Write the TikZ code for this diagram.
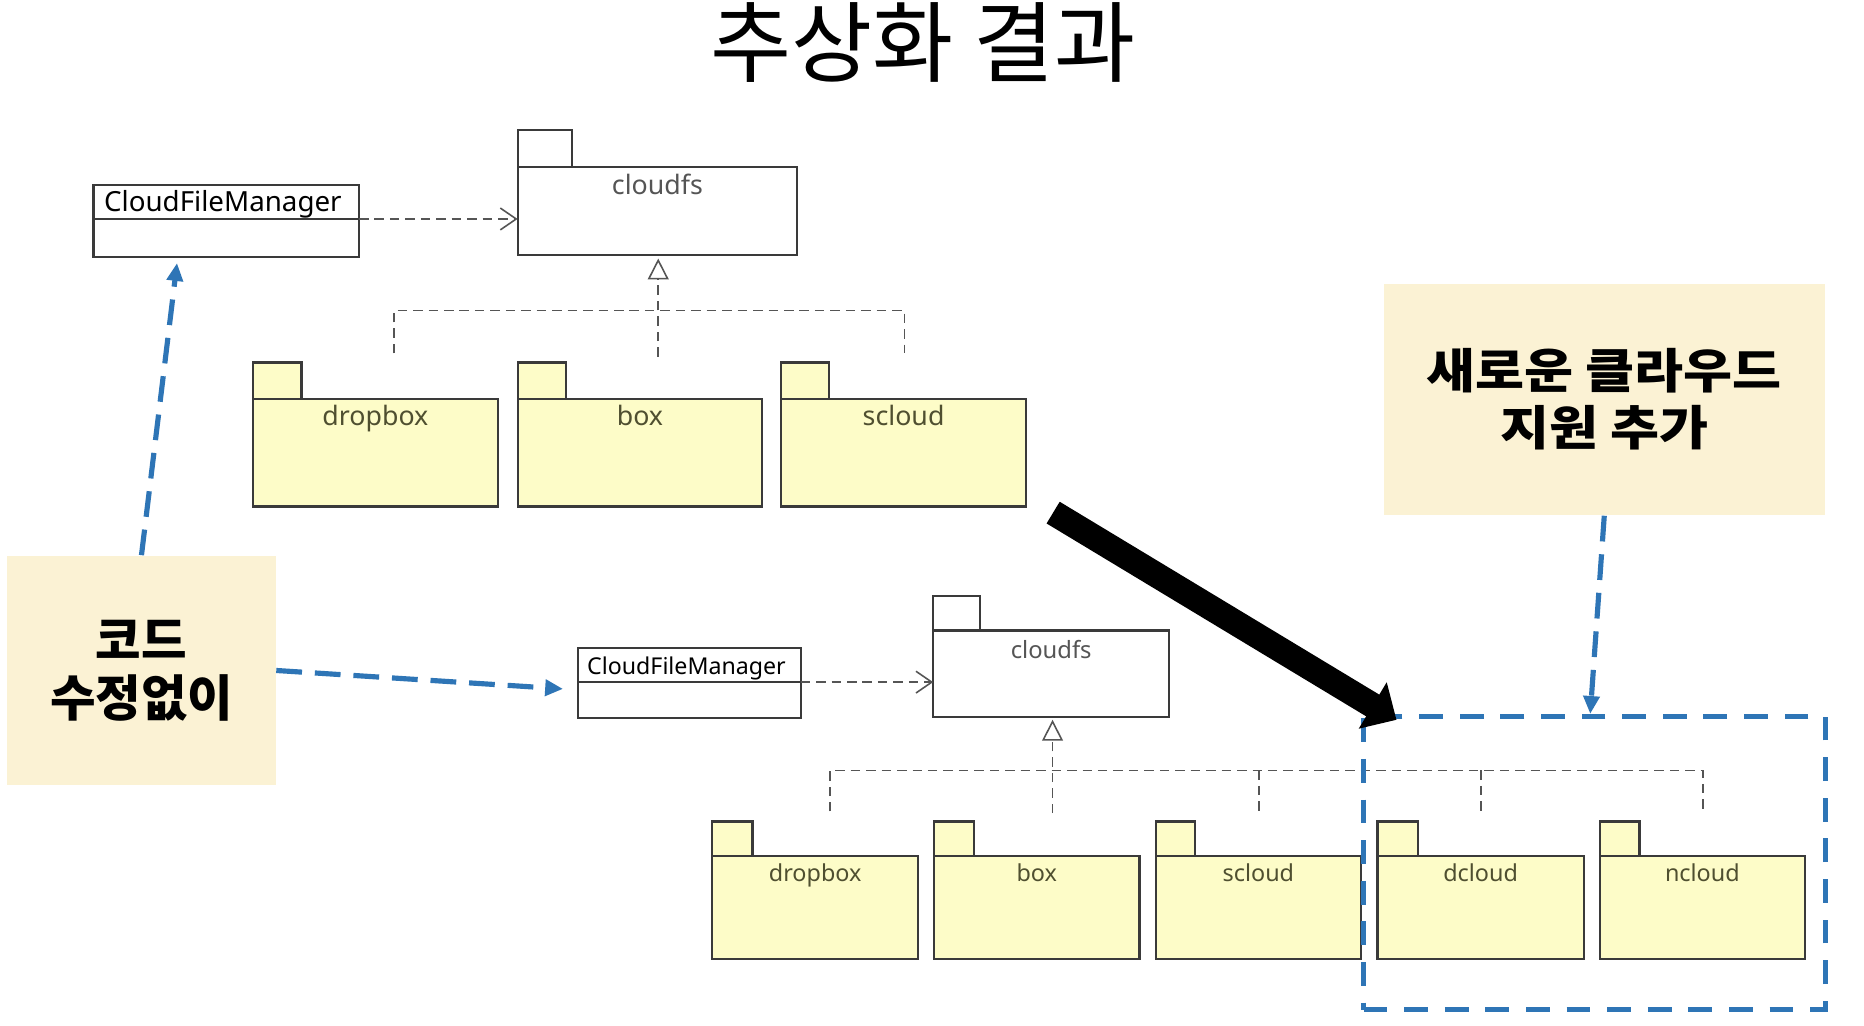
\documentclass[tikz,border=0pt]{standalone}
\usepackage{fontspec}
\setmainfont{Noto Sans}
\newfontfamily\kr{Noto Sans CJK KR}
\newfontfamily\krwide{Noto Sans CJK KR}[FakeStretch=1.12]
\usetikzlibrary{arrows.meta,fit,calc}
\definecolor{pkgfill}{HTML}{FDFCC8}
\definecolor{notefill}{HTML}{FBF2D4}
\definecolor{blu}{HTML}{2E75B6}
\definecolor{edge}{HTML}{3A3A3A}
\definecolor{pkgtext}{HTML}{4F4F30}
\definecolor{gtext}{HTML}{555555}
\definecolor{gline}{HTML}{555555}
\tikzset{
  frame/.style={draw=edge, line width=1.1pt, inner sep=0pt, outer sep=0pt},
  pkgY/.style={frame, fill=pkgfill},
  pkgW/.style={frame, fill=white},
  pkgYs/.style={pkgY},
  pkgWs/.style={pkgW},
  pkgY lbl/.style={font=\fontsize{13.5}{16}\selectfont, text=pkgtext, yshift=-13.2pt},
  pkgW lbl/.style={font=\fontsize{13.5}{16}\selectfont, text=gtext, yshift=-14.3pt},
  pkgYs lbl/.style={font=\fontsize{11.8}{14}\selectfont, text=pkgtext, yshift=-12.9pt},
  pkgWs lbl/.style={font=\fontsize{12}{14}\selectfont, text=gtext, yshift=-14pt},
  pkglbl/.style={inner sep=0pt, anchor=base},
  classtxt/.style={inner sep=0pt, anchor=base, text=black},
  divline/.style={draw=edge, line width=1.1pt},
  gdash/.style={draw=gline, line width=0.8pt, dash pattern=on 4.8pt off 3pt},
  gdep/.style={gdash, -{Straight Barb[length=8pt,width=11pt]}},
  greal/.style={gdash, -{Triangle[open,length=10.5pt,width=10.5pt,fill=white]}},
  note/.style={fill=notefill, inner sep=0pt, align=center, text=black},
  bluarrow/.style={draw=blu, line width=2.6pt, dash pattern=on 13pt off 6.5pt, -{Triangle[length=9pt,width=8pt]}},
  newbox/.style={draw=blu, line width=2.6pt, dash pattern=on 12pt off 8.5pt, inner sep=0pt},
  bigarrow/.style={draw=black, line width=12.8pt, -{Triangle[length=14pt,width=26.5pt]}}
}
\newcommand{\Pkg}[9]{%
  \node[#9, fit={(#2,#5)(#3,#6)}] (#1-tab) {};
  \node[#9, fit={(#2,#6)(#4,#7)}] (#1) {};
  \node[pkglbl, #9 lbl] (#1-lbl) at (#1.north) {#8};
}
\begin{document}
\begin{tikzpicture}[x=0.6pt, y=-0.6pt]
\useasboundingbox (0,0) rectangle (1568,863);
\fill[white] (0,0) rectangle (1568,863);

% title
\node[font={\kr\fontsize{44.5}{52}\selectfont}, inner sep=0pt] (title) at (776.5,36) {추상화 결과};

% ---------- top diagram ----------
\Pkg{tcfs}{435.4}{481}{670.6}{109.3}{140.2}{214.5}{cloudfs}{pkgW}
\Pkg{tdrop}{212.8}{253.6}{418.7}{305}{335.8}{426}{dropbox}{pkgY}
\Pkg{tbox}{435.4}{475.8}{641.3}{305}{335.8}{426}{box}{pkgY}
\Pkg{tscl}{657.2}{697.1}{863}{305}{335.8}{426}{scloud}{pkgY}

\node[frame, fill=white, fit={(78.7,155.6)(302,215.9)}] (cfmA) {};
\coordinate (cfmA-l) at (78.7,184.2);
\coordinate (cfmA-r) at (302,184.2);
\draw[divline] (cfmA-l) -- (cfmA-r);
\node[classtxt, font=\fontsize{14}{16}\selectfont] (cfmA-t) at (187.5,178) {CloudFileManager};
\draw[gdep] (cfmA-r) -- (tcfs.west |- cfmA-r);

\coordinate (tjL) at (331.4,261.3);
\coordinate (tjR) at (761,261.3);
\coordinate (tL) at (331.4,297.2);
\coordinate (tR) at (761,297.2);
\coordinate (tC) at (553.7,300);
\coordinate (tTip) at (553.7,217.5);
\draw[gdash] (tL) -- (tjL) -- (tjR) -- (tR);
\draw[greal] (tC) -- (tTip);

% ---------- bottom diagram ----------
\Pkg{bcfs}{785}{824.6}{983.5}{501.3}{530.4}{602.8}{cloudfs}{pkgWs}
\Pkg{bdrop}{599}{633}{772.4}{691}{720}{806.7}{dropbox}{pkgYs}
\Pkg{bbox}{785.8}{819.4}{958.5}{691}{720}{806.7}{box}{pkgYs}
\Pkg{bscl}{972.3}{1005.3}{1144.8}{691}{720}{806.7}{scloud}{pkgYs}
\Pkg{bdcl}{1158.8}{1192.6}{1332.1}{691}{720}{806.7}{dcloud}{pkgYs}
\Pkg{bncl}{1345.7}{1379.1}{1518.3}{691}{720}{806.7}{ncloud}{pkgYs}

\node[frame, fill=white, fit={(486.5,545.3)(673.5,604.1)}] (cfmB) {};
\coordinate (cfmB-l) at (486.5,573.8);
\coordinate (cfmB-r) at (673.5,573.8);
\draw[divline] (cfmB-l) -- (cfmB-r);
\node[classtxt, font=\fontsize{11.7}{14}\selectfont] (cfmB-t) at (577.5,567.7) {CloudFileManager};
\draw[gdep] (cfmB-r) -- (bcfs.west |- cfmB-r);

\coordinate (bj1) at (698.2,648);
\coordinate (bj5) at (1432.3,648);
\coordinate (bj3) at (1059.3,648);
\coordinate (bj4) at (1245.8,648);
\coordinate (b1) at (698.2,682.6);
\coordinate (b3) at (1059.3,682.6);
\coordinate (b4) at (1245.8,682.6);
\coordinate (b5) at (1432.3,682.6);
\coordinate (bC) at (885.4,684);
\coordinate (bTip) at (885.4,605.5);
\draw[gdash] (b1) -- (bj1) -- (bj5) -- (b5);
\draw[gdash] (bj3) -- (b3);
\draw[gdash] (bj4) -- (b4);
\draw[greal] (bC) -- (bTip);

% ---------- notes ----------
\node[note, minimum width=135.7pt, minimum height=116pt,
      font={\kr\bfseries\fontsize{25}{29.4}\selectfont}] (note1) at (119,564) {코드\\수정없이};
\node[note, minimum width=222.6pt, minimum height=117pt,
      font={\krwide\bfseries\fontsize{24}{29}\selectfont}] (note2) at (1349.5,336) {새로운 클라우드\\지원 추가};

% ---------- new box ----------
\node[newbox, fit={(1147,602.7)(1535.3,849.5)}] (newbox) {};

% ---------- arrows ----------
\coordinate (cfmA-tip) at (148.9,221.3);
\coordinate (cfmB-tip) at (473.6,579.5);
\coordinate (newbox-tip) at (1337.7,600.5);
\draw[bluarrow] (note1.north) -- (cfmA-tip);
\draw[bluarrow] (note1.east) -- (cfmB-tip);
\draw[bluarrow] (note2.south) -- (newbox-tip);

\coordinate (bigS) at (885.9,431.2);
\coordinate (bigE) at (1174.7,605.5);
\draw[bigarrow] (bigS) -- (bigE);
\end{tikzpicture}
\end{document}
